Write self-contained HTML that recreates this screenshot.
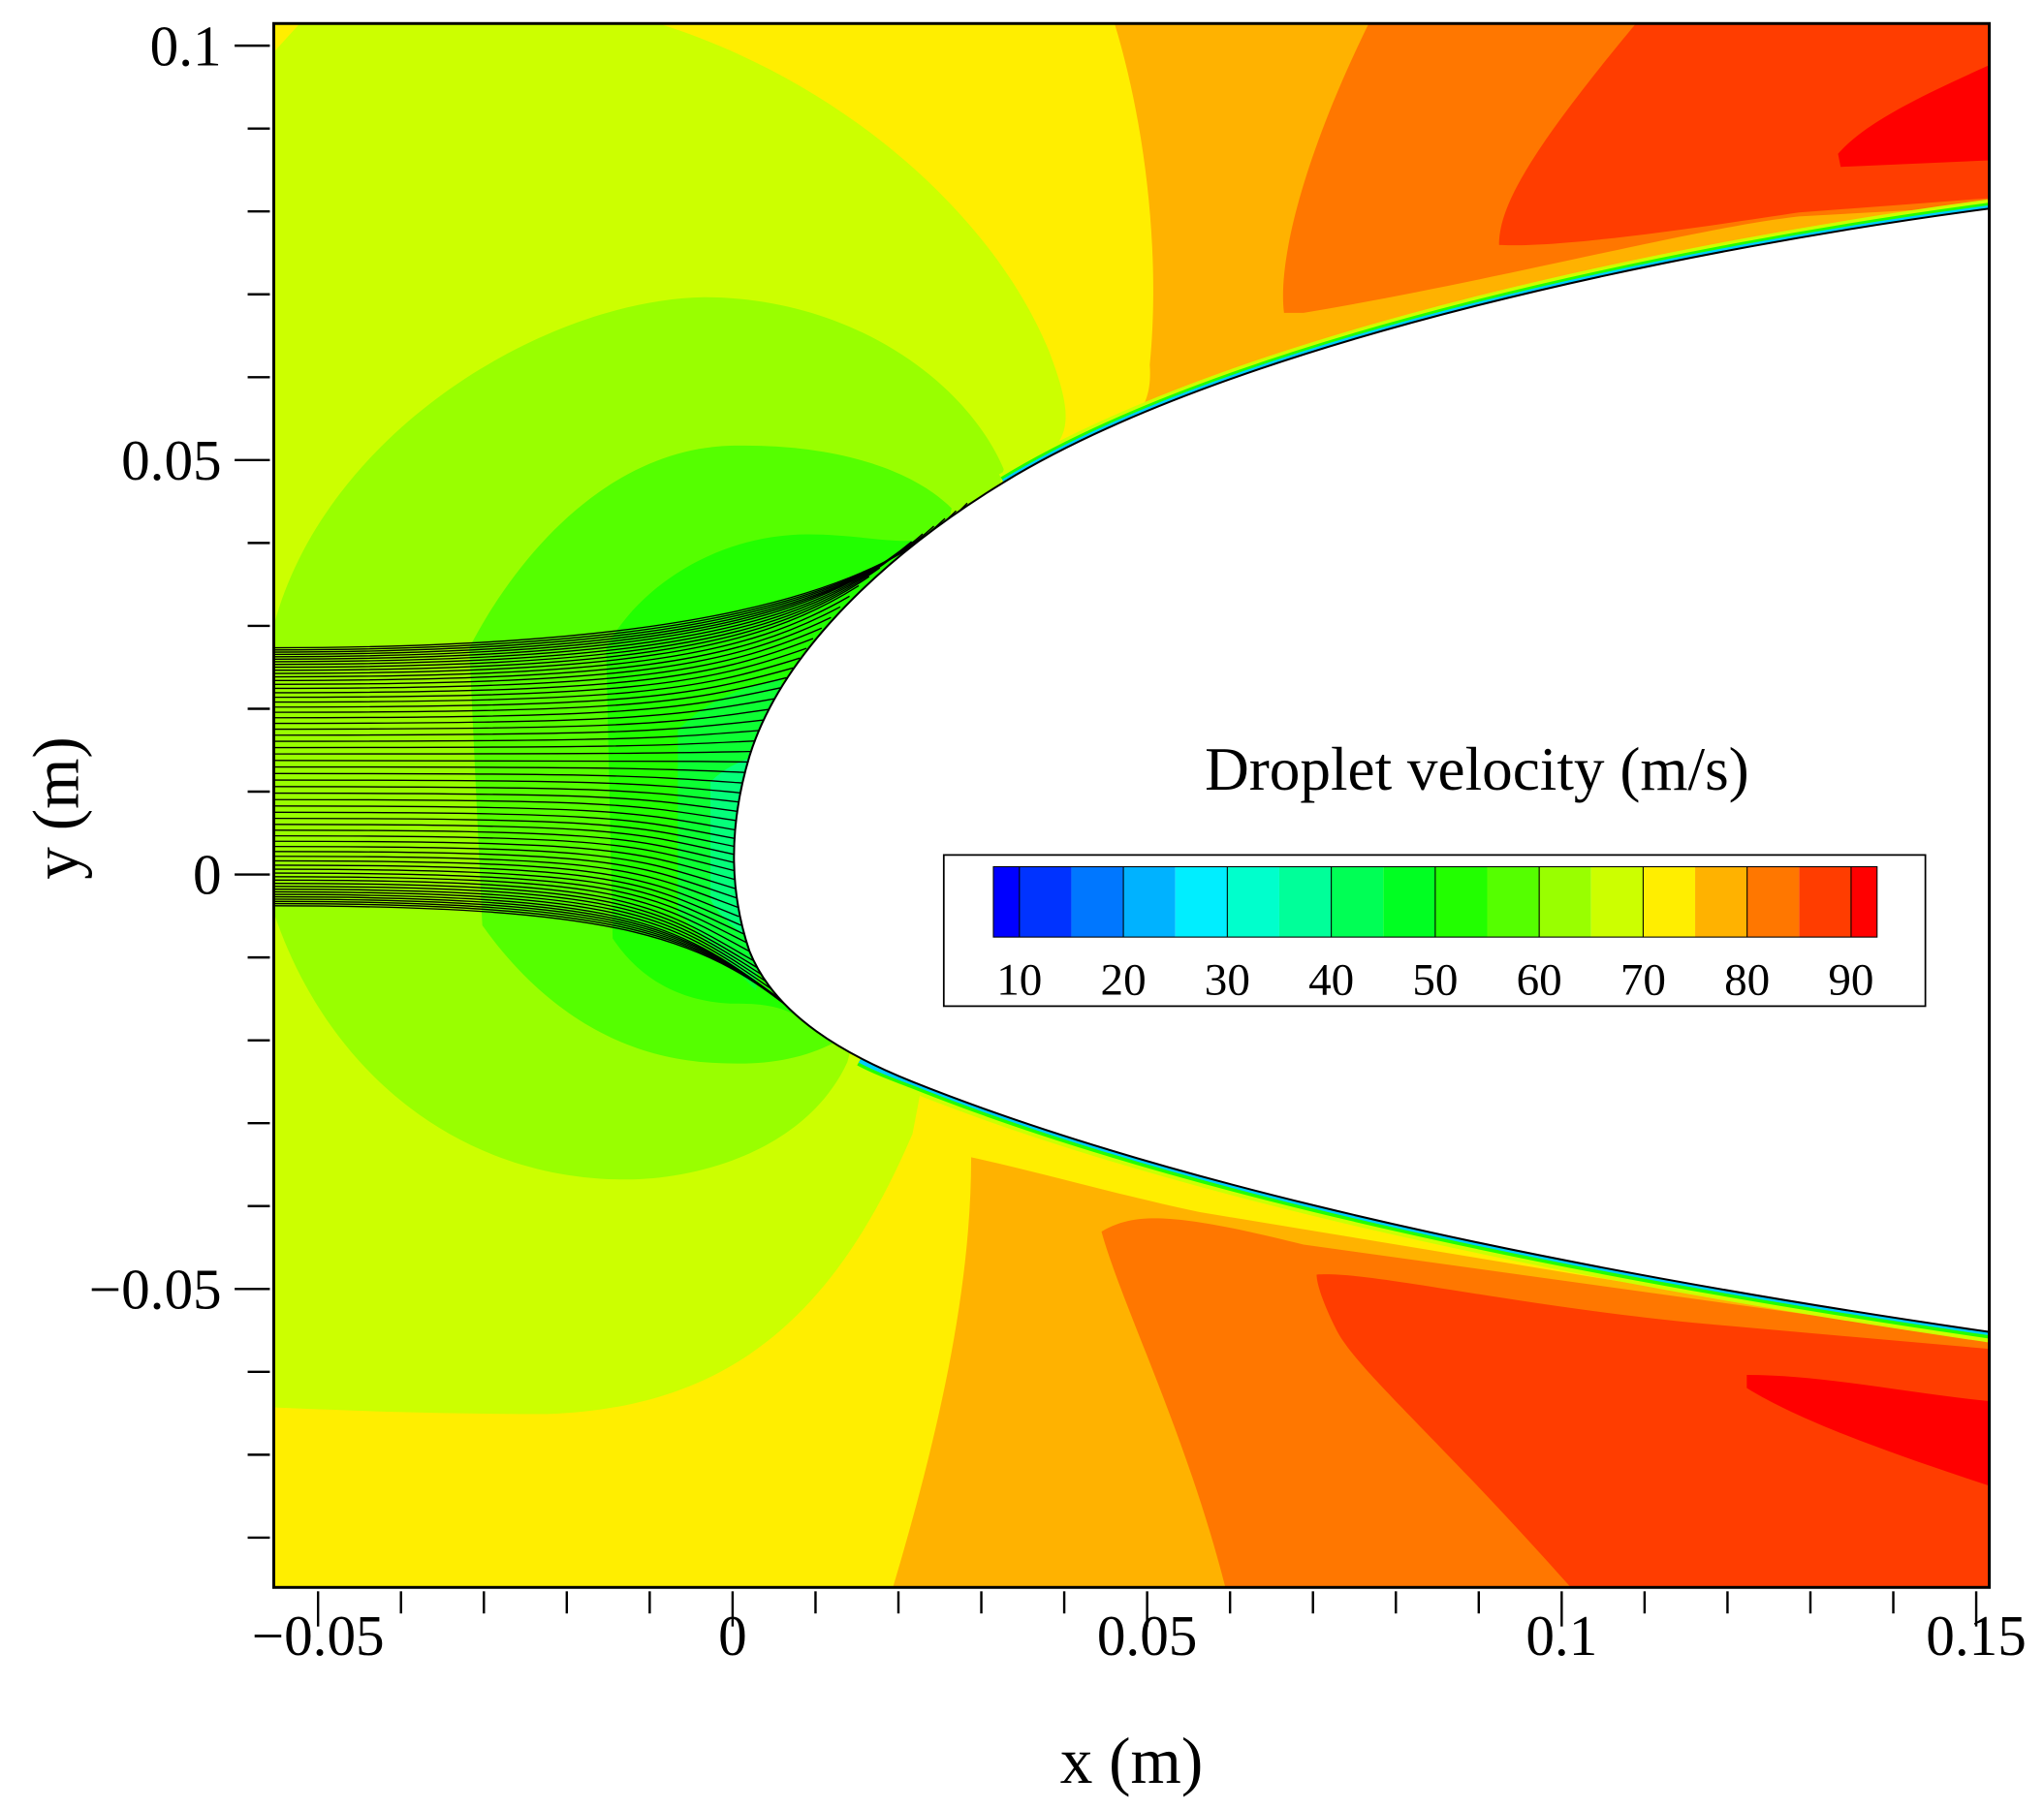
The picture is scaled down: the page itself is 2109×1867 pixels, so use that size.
<!DOCTYPE html>
<html><head><meta charset="utf-8"><style>
html,body{margin:0;padding:0;background:#fff;}
svg{display:block;}
text{font-family:"Liberation Serif",serif;fill:#000;}
</style></head><body>
<svg id="chart" width="2109" height="1867" viewBox="0 0 1568 1388" xmlns="http://www.w3.org/2000/svg">
<defs>
<clipPath id="plotclip"><rect x="210" y="18" width="1316" height="1200"/></clipPath>
</defs>
<g clip-path="url(#plotclip)">
  <rect x="210" y="18" width="1316" height="1200" fill="#ffee00"/>
  <path fill="#ccff00" d="M230,18 L505,18 C640,60 760,160 805,270 C820,310 825,335 800,350 L700,870 C640,1010 560,1080 420,1085 C330,1085 260,1082 210,1080 L210,40 Z"/>
  <path fill="#99ff00" d="M210,480 C250,330 420,230 540,228 C650,228 740,290 770,360 L650,815 C620,880 540,905 480,905 C350,905 250,820 210,700 Z"/>
  <path fill="#55ff00" d="M360,497 C400,420 470,345 560,342 C640,340 700,360 730,390 L640,800 C610,815 580,818 540,815 C480,810 420,780 370,710 Z"/>
  <path fill="#22ff00" d="M465,497 C490,450 550,410 620,410 C680,410 720,430 740,390 L620,785 C600,770 580,770 560,770 C520,768 490,750 470,720 Z"/>
  <path fill="#00ff55" d="M520,560 C540,540 560,530 600,520 L580,760 C560,740 540,720 520,700 Z" opacity="0.6"/>
  <path fill="#00ffaa" d="M545,600 C555,590 565,585 580,580 L575,720 C560,710 550,700 545,690 Z" opacity="0.6"/>
  <path fill="#ffb200" d="M855,18 L1526,18 L1526,160 C1300,190 1000,250 830,338 C860,330 885,322 882,280 C890,200 880,100 855,18 Z"/>
  <path fill="#ff7700" d="M1050,18 L1526,18 L1526,158 L1380,166 C1300,175 1150,215 1000,240 L985,240 C980,200 1000,120 1050,18 Z"/>
  <path fill="#ff3d00" d="M1255,18 L1526,18 L1526,152 L1380,163 C1300,175 1200,190 1150,188 C1150,160 1170,120 1255,18 Z"/>
  <path fill="#ff0000" d="M1526,50 C1470,75 1430,95 1410,118 L1412,128 L1526,123 Z"/>
  <path fill="#ffb200" d="M685,1218 C720,1100 745,990 745,888 C800,900 850,915 920,930 L1526,1030 L1526,1218 Z"/>
  <path fill="#ff7700" d="M940,1218 C910,1100 860,1000 845,945 C870,930 900,930 1000,955 L1526,1028 L1526,1218 Z"/>
  <path fill="#ff3d00" d="M1205,1218 C1100,1100 1040,1050 1025,1020 C1015,1000 1010,985 1010,978 C1050,975 1150,1000 1300,1015 L1526,1035 L1526,1218 Z"/>
  <path fill="#ff0000" d="M1340,1055 C1400,1055 1470,1070 1526,1075 L1526,1140 C1450,1115 1380,1090 1340,1065 Z"/>
  <path fill="none" stroke="#ccff00" stroke-width="14" d="M770,370 C950,260 1300,190 1526,160"/>
  <path fill="none" stroke="#22ff00" stroke-width="9" d="M770,370 C950,260 1300,190 1526,160"/>
  <path fill="none" stroke="#00ccff" stroke-width="5" d="M770,370 C950,260 1300,190 1526,160"/>
  <path fill="none" stroke="#ccff00" stroke-width="16" d="M700,830 C850,890 1100,960 1526,1022"/>
  <path fill="none" stroke="#22ff00" stroke-width="10" d="M660,813 C672,820 690,826 700,830 C850,890 1100,960 1526,1022"/>
  <path fill="none" stroke="#00ccff" stroke-width="5" d="M660,813 C672,820 690,826 700,830 C850,890 1100,960 1526,1022"/>
  <g id="streamlines"></g>
  <path fill="#ffffff" stroke="#000" stroke-width="1.5" d="M1526,160 C1300,190 950,260 770,370 C680,425 600,500 575,580 C560,630 558,680 575,730 C595,780 650,810 700,830 C850,890 1100,960 1526,1022 L1560,1022 L1560,160 Z"/>
</g>
<rect x="210" y="18" width="1316" height="1200" fill="none" stroke="#000" stroke-width="2.2"/>
<g id="axes"></g>
<text x="868" y="1368" font-size="50" text-anchor="middle">x (m)</text>
<text x="0" y="0" font-size="50" text-anchor="middle" transform="translate(60,620) rotate(-90)">y (m)</text>
<g>
  <text x="1133" y="606" font-size="47" text-anchor="middle">Droplet velocity (m/s)</text>
  <rect x="724" y="656" width="753" height="116" fill="#fff" stroke="#000" stroke-width="1.3"/>
  <g id="colorbar"></g>
</g>
</svg>
<script>
const cbColors = ["#0000ff","#0033ff","#0077ff","#00b2ff","#00eeff","#00ffcc","#00ff99","#00ff55","#00ff22","#22ff00","#55ff00","#99ff00","#ccff00","#ffee00","#ffb200","#ff7700","#ff3d00","#ff0000"];
const cbLevels = [7.5,10,15,20,25,30,35,40,45,50,55,60,65,70,75,80,85,90,92.5];
const cbTicks = [10,20,30,40,50,60,70,80,90];
const xTicks = [-0.05,0,0.05,0.1,0.15];
const xTickLabels = ["\u22120.05","0","0.05","0.1","0.15"];
const yTicks = [0.1,0.05,0,-0.05];
const yTickLabels = ["0.1","0.05","0","\u22120.05"];
const streamCount = 60;
const NS="http://www.w3.org/2000/svg";
function mk(t,a,p){const e=document.createElementNS(NS,t);for(const k in a)e.setAttribute(k,a[k]);p.appendChild(e);return e;}
const sx = v => 562 + v*(1515-243)/0.2;
const sy = v => 671 - v*6360;
const cx = v => 782 + (v-10)*(1420-782)/80;
const axes=document.getElementById('axes');
for(let i=-5;i<=15;i++){const v=i/100;const x=sx(v);if(x<211||x>1525)continue;
  const major = i%5===0;
  const l=mk('line',{x1:x,y1:1221,x2:x,y2:1221+(major?27:17),stroke:'#000','stroke-width':1.8},axes);
  
  }
for(let i=-8;i<=10;i++){const v=i/100;const y=sy(v);if(y<19||y>1217)continue;
  const major = i%5===0;
  const l=mk('line',{x1:207,y1:y,x2:207-(major?27:17),y2:y,stroke:'#000','stroke-width':1.8},axes);
  
  }
xTicks.forEach((v,i)=>{const t=mk('text',{x:sx(v),y:1270,'font-size':44,'text-anchor':'middle'},axes);t.textContent=xTickLabels[i];
  
  });
yTicks.forEach((v,i)=>{const t=mk('text',{x:170,y:sy(v)+15,'font-size':44,'text-anchor':'end'},axes);t.textContent=yTickLabels[i];
  
  });
const cb=document.getElementById('colorbar');
cbColors.forEach((c,i)=>{const x0=cx(cbLevels[i]),x1=cx(cbLevels[i+1]);
  const r=mk('rect',{x:x0,y:665,width:x1-x0,height:54,fill:c},cb);
  
  });
cbTicks.forEach(v=>{const l=mk('line',{x1:cx(v),y1:665,x2:cx(v),y2:719,stroke:'#000','stroke-width':0.8},cb);
  
  
  const t=mk('text',{x:cx(v),y:763,'font-size':35,'text-anchor':'middle'},cb);t.textContent=v;
  
  });
const cbo=mk('rect',{x:cx(7.5),y:665,width:cx(92.5)-cx(7.5),height:54,fill:'none',stroke:'#000','stroke-width':0.8},cb);


const sl=document.getElementById('streamlines');
const bodyPts=[[742,386],[700,415],[660,448],[625,488],[600,525],[583,565],[571,605],[565,640],[563,670],[567,705],[578,738],[596,765],[622,787]];
function bodyAt(t){const n=bodyPts.length-1;const f=t*n;const i=Math.min(n-1,Math.floor(f));const u=f-i;
  return [bodyPts[i][0]*(1-u)+bodyPts[i+1][0]*u, bodyPts[i][1]*(1-u)+bodyPts[i+1][1]*u];}
for(let i=0;i<streamCount;i++){
  const s=i/(streamCount-1);
  const y0=497+(s - 0.08*Math.sin(2*Math.PI*s))*198;
  const [ex,ey]=bodyAt(s);
  const c2x=ex-80, c2y=ey+(y0-ey)*0.75;
  const p=mk('path',{d:`M205,${y0} C480,${y0} ${c2x},${c2y} ${ex},${ey}`,fill:'none',stroke:'#000','stroke-width':1},sl);
  
  
}
</script>
</body></html>
